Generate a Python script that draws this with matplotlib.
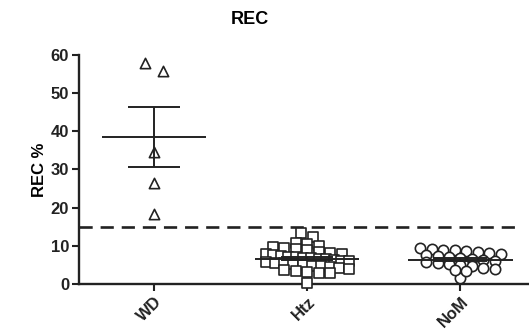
"""REC % column scatter: WD / Htz / NoM with mean +/- SEM and a 15 % cutoff."""

import matplotlib

matplotlib.use("Agg")

import matplotlib.pyplot as plt  # noqa: E402
import matplotlib.transforms as mtransforms  # noqa: E402
import numpy as np  # noqa: E402

plt.rcParams["font.family"] = ["Liberation Sans", "DejaVu Sans"]

groups = ["WD", "Htz", "NoM"]
markers = ["^", "s", "o"]
wd = [57.9, 55.8, 34.5, 26.4, 18.3]
htz = [0.2, 13.5, 12.2, 10.8, 10.5, 10.0, 9.8, 9.5, 9.2, 8.8, 8.5, 8.2, 8.0,
       7.8, 7.6, 7.4, 7.2, 7.0, 6.9, 6.8, 6.6, 6.5, 6.3, 6.1, 6.0, 5.8, 5.6,
       5.4, 5.2, 5.0, 4.8, 4.6, 4.4, 4.2, 4.0, 3.8, 3.5, 3.2, 3.0, 2.8]
nom = [1.5, 9.5, 9.2, 9.0, 8.8, 8.6, 8.4, 8.2, 8.0, 7.6, 7.3, 7.0, 6.8,
       6.5, 6.2, 6.0, 5.8, 5.5, 5.2, 5.0, 4.6, 4.3, 4.0, 3.8, 3.5]
cutoff = 15
yticks = [0, 10, 20, 30, 40, 50, 60]


def _spread(vals, bin_w=2.0, step=0.075, half=0.27):
    """Horizontal offsets so that points of similar value sit side by side."""
    vals = np.asarray(vals, dtype=float)
    offs = np.zeros(len(vals))
    bins = np.floor(vals / bin_w)
    for b in np.unique(bins):
        idx = np.where(bins == b)[0]
        n = len(idx)
        st = min(step, 2 * half / max(n - 1, 1))
        offs[idx] = (np.arange(n) - (n - 1) / 2) * st
    return offs


fig = plt.figure(figsize=(5.29, 3.33), dpi=100)
ax = fig.add_axes([0.149, 0.147, 0.849, 0.688])

for i, (vals, mk) in enumerate(zip([wd, htz, nom], markers)):
    vals = np.asarray(vals)
    off = _spread(vals) if len(vals) > 10 else np.zeros(len(vals))
    if i == 0:
        off = np.array([-0.06, 0.06, 0, 0, 0])
    ax.scatter(i + off, vals, marker=mk, s=55, facecolors="white",
               edgecolors="#222222", linewidths=1.2, zorder=3, clip_on=False)
    mean = vals.mean()
    sem = vals.std(ddof=1) / np.sqrt(len(vals))
    ax.hlines(mean, i - 0.34, i + 0.34, color="#222222", lw=1.4, zorder=4)
    ax.hlines([mean - sem, mean + sem], i - 0.17, i + 0.17,
              color="#222222", lw=1.4, zorder=4)
    ax.vlines(i, mean - sem, mean + sem, color="#222222", lw=1.4, zorder=4)

ax.axhline(cutoff, xmin=0.0, xmax=0.982, color="#222222", lw=1.9,
           dashes=(5, 3), zorder=2)

ax.set_xlim(-0.49, 2.44)
ax.set_ylim(0, 60)
ax.set_yticks(yticks)
ax.set_xticks(range(len(groups)))
ax.set_xticklabels(groups, rotation=45, ha="right", rotation_mode="anchor",
                   fontweight="bold", fontsize=12)
shift = mtransforms.ScaledTranslation(-5 / 100, 2 / 100, fig.dpi_scale_trans)
for lab in ax.get_xticklabels():
    lab.set_transform(lab.get_transform() + shift)
for lab in ax.get_yticklabels():
    lab.set_fontweight("bold")
    lab.set_fontsize(12)
ax.set_ylabel("REC %", fontweight="bold", fontsize=12, labelpad=3)
ax.set_title("REC", fontweight="bold", fontsize=13, pad=22, x=0.38)

for side in ("top", "right"):
    ax.spines[side].set_visible(False)
for side in ("left", "bottom"):
    ax.spines[side].set_linewidth(1.7)
    ax.spines[side].set_color("#222222")
ax.tick_params(width=1.5, length=5, pad=2, color="#222222",
               labelcolor="#222222")

fig.savefig("out.png", dpi=100)
